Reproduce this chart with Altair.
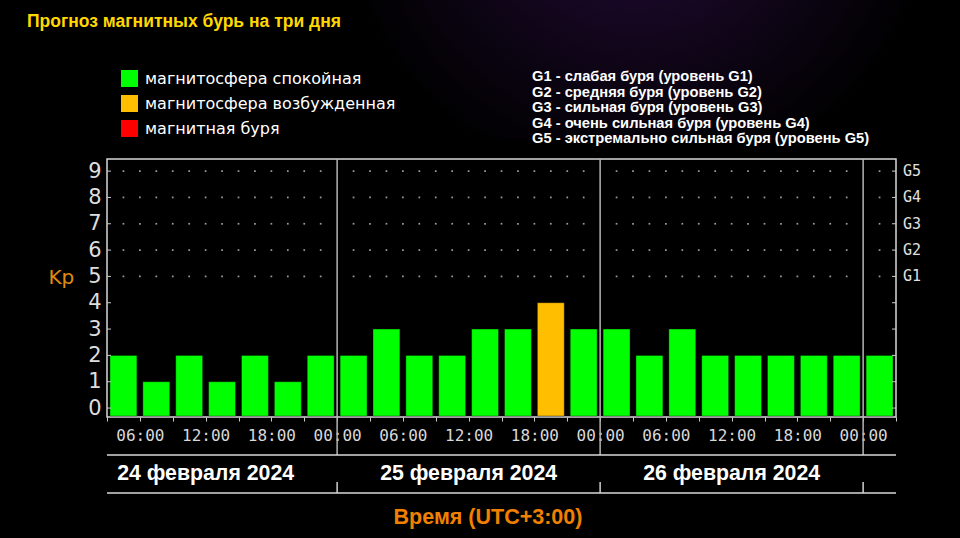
import altair as alt
import pandas as pd

# ---------------- data ----------------
interval_starts = [
    "2024-02-24 03:00", "2024-02-24 06:00", "2024-02-24 09:00", "2024-02-24 12:00",
    "2024-02-24 15:00", "2024-02-24 18:00", "2024-02-24 21:00",
    "2024-02-25 00:00", "2024-02-25 03:00", "2024-02-25 06:00", "2024-02-25 09:00",
    "2024-02-25 12:00", "2024-02-25 15:00", "2024-02-25 18:00", "2024-02-25 21:00",
    "2024-02-26 00:00", "2024-02-26 03:00", "2024-02-26 06:00", "2024-02-26 09:00",
    "2024-02-26 12:00", "2024-02-26 15:00", "2024-02-26 18:00", "2024-02-26 21:00",
    "2024-02-27 00:00",
]
kp_values = [2, 1, 2, 1, 2, 1, 2,
             2, 3, 2, 2, 3, 3, 4, 3,
             3, 2, 3, 2, 2, 2, 2, 2,
             2]

state_names = ["магнитосфера спокойная", "магнитосфера возбужденная", "магнитная буря"]
state_colors = ["#00ff00", "#ffbf00", "#ff0000"]

day_labels = ["24 февраля 2024", "25 февраля 2024", "26 февраля 2024"]
day_noons = ["2024-02-24 12:00", "2024-02-25 12:00", "2024-02-26 12:00"]
day_bounds = ["2024-02-25 00:00", "2024-02-26 00:00", "2024-02-27 00:00"]

g_levels = ["G1", "G2", "G3", "G4", "G5"]
g_kp = [5, 6, 7, 8, 9]
g_desc = [
    "G1 - слабая буря (уровень G1)",
    "G2 - средняя буря (уровень G2)",
    "G3 - сильная буря (уровень G3)",
    "G4 - очень сильная буря (уровень G4)",
    "G5 - экстремально сильная буря (уровень G5)",
]
kp_ticks = list(range(10))

title_text = "Прогноз магнитных бурь на три дня"
x_title_text = "Время (UTC+3:00)"

# ---------------- tables ----------------
origin = pd.Timestamp("2024-02-24 00:00")


def hours(lst):
    return [(pd.Timestamp(s) - origin).total_seconds() / 3600 for s in lst]


start_h = hours(interval_starts)
bars = pd.DataFrame({
    "start": start_h,
    "end": [h + 3 for h in start_h],
    "kp": kp_values,
    "state": [state_names[0] if k < 4 else (state_names[1] if k == 4 else state_names[2])
              for k in kp_values],
})
days = pd.DataFrame({"label": day_labels, "start": hours(day_noons)})
bounds = pd.DataFrame({"start": hours(day_bounds)})
gdf = pd.DataFrame({"g": g_levels, "kp": g_kp})
ticks_df = pd.DataFrame({"kp": kp_ticks})

x_min, x_max = start_h[0], start_h[-1] + 3
grid_x = [x_min + 1.5 * i for i in range(1, int((x_max - x_min) / 1.5))]
grid_x = [g for g in grid_x if g not in hours(day_bounds)]
dots = pd.DataFrame([(gx, gy) for gx in grid_x for gy in g_kp], columns=["start", "kp"])

one = pd.DataFrame({"a": [0]})

W, H = 789, 258
xs = alt.Scale(domain=[x_min, x_max], nice=False, zero=False)
ys = alt.Scale(domain=[-0.34, 9.46], nice=False, zero=False)

xlab_expr = ("datum.value % 6 == 0 ? ((datum.value % 24) < 10 ? '0' : '') + "
             "(datum.value % 24) + ':00' : ''")
xaxis = alt.Axis(
    values=list(range(int(x_min), int(x_max) + 1, 3)), tickSize=4, tickColor="#cccccc",
    tickWidth=1, labelExpr=xlab_expr, labelFont="DejaVu Sans Mono", labelFontSize=16,
    labelColor="#d8d8d8", labelPadding=6, labelFlush=False, labelOverlap=False,
    labelBound=False, domain=False, grid=False, title=None)
yaxis = alt.Axis(
    values=kp_ticks, ticks=False, domain=False, grid=False, labelFontSize=21,
    labelFont="DejaVu Sans", labelColor="#dedede", labelPadding=6,
    title="Kp", titleAngle=0, titleColor="#e08a10", titleFontSize=20,
    titleFontWeight="normal", titleFont="DejaVu Sans", titleX=-59, titleY=124,
    titleAlign="left", titleBaseline="alphabetic")


def X(field):
    return alt.X(field, scale=xs, axis=xaxis)


def Y(field):
    return alt.Y(field, scale=ys, axis=yaxis)


# ---------------- layers ----------------
glow = alt.Chart(one).mark_rect(
    fill=alt.RadialGradient(
        gradient="radial",
        stops=[alt.GradientStop(color="#260a3e", offset=0),
               alt.GradientStop(color="#12061c", offset=0.5),
               alt.GradientStop(color="#000000", offset=1)],
        x1=0.5, y1=0.2, r1=0, x2=0.5, y2=0.2, r2=0.5,
    )
).encode(x=alt.value(230), x2=alt.value(830), y=alt.value(-159), y2=alt.value(-20))

bar_layer = alt.Chart(bars).mark_bar(
    xOffset=3, x2Offset=-3, stroke="#000000", strokeOpacity=0.35, strokeWidth=1
).encode(
    x=X("start:Q"),
    x2="end:Q",
    y=Y("kp:Q"),
    y2=alt.value(H - 1),
    color=alt.Color("state:N", scale=alt.Scale(domain=state_names, range=state_colors),
                    legend=alt.Legend(
                        title=None, orient="none", legendX=14, legendY=-89,
                        symbolType="square", symbolSize=289, symbolStrokeWidth=0,
                        labelFontSize=16, labelFont="DejaVu Sans", labelColor="#ffffff",
                        rowPadding=8, labelOffset=7, padding=0, direction="vertical",
                        labelLimit=400)),
)

dot_layer = alt.Chart(dots).mark_square(size=3, color="#9a9a9a", opacity=1).encode(
    x=X("start:Q"), y=Y("kp:Q"))

day_lines = alt.Chart(bounds).mark_rule(color="#b4b4b4", strokeWidth=1.5).encode(
    x=X("start:Q"), y=alt.value(0), y2=alt.value(296))

day_ticks = alt.Chart(bounds).mark_rule(color="#d0d0d0", strokeWidth=1.5).encode(
    x=X("start:Q"), y=alt.value(323), y2=alt.value(334))

hline1 = alt.Chart(one).mark_rule(color="#d8d8d8", strokeWidth=1.5).encode(
    x=alt.value(0), x2=alt.value(W), y=alt.value(296))
hline2 = alt.Chart(one).mark_rule(color="#d8d8d8", strokeWidth=1.5).encode(
    x=alt.value(0), x2=alt.value(W), y=alt.value(334))

left_ticks = alt.Chart(ticks_df).mark_rule(color="#cccccc", strokeWidth=1).encode(
    y=Y("kp:Q"), x=alt.value(0), x2=alt.value(4))
right_ticks = alt.Chart(ticks_df).mark_rule(color="#cccccc", strokeWidth=1).encode(
    y=Y("kp:Q"), x=alt.value(W - 4), x2=alt.value(W))

g_labels = alt.Chart(gdf).mark_text(
    align="left", baseline="middle", font="DejaVu Sans Mono", fontSize=15, color="#e0e0e0"
).encode(y=Y("kp:Q"), x=alt.value(W + 7), text="g:N")

date_text = alt.Chart(days).mark_text(
    align="center", baseline="alphabetic", font="Liberation Sans", fontWeight="bold",
    fontSize=21.3, color="#ffffff"
).encode(x=X("start:Q"), y=alt.value(321), text="label:N")

title_layer = alt.Chart(one).mark_text(
    text=title_text, align="left", baseline="alphabetic", font="Liberation Sans",
    fontWeight="bold", fontSize=17.5, color="#ffd800"
).encode(x=alt.value(-80), y=alt.value(-132))

xtitle_layer = alt.Chart(one).mark_text(
    text=x_title_text, align="center", baseline="alphabetic", font="Liberation Sans",
    fontWeight="bold", fontSize=21.5, color="#f08000"
).encode(x=alt.value(381), y=alt.value(365))

gdesc_layer = alt.Chart(one).mark_text(
    text=g_desc, align="left", baseline="alphabetic", font="Liberation Sans",
    fontWeight="bold", fontSize=14.7, lineHeight=15.5, color="#ffffff"
).encode(x=alt.value(425), y=alt.value(-78))

chart = alt.layer(
    glow, bar_layer, dot_layer, day_lines, left_ticks, right_ticks, g_labels,
    hline1, hline2, day_ticks, date_text, title_layer, xtitle_layer, gdesc_layer
).properties(
    width=W, height=H,
    padding={"left": 107, "top": 159, "right": 960 - 107 - W, "bottom": 538 - 159 - H},
    autosize=alt.AutoSizeParams(type="none"),
    background="#000000",
).configure_view(stroke="#d8d8d8", strokeWidth=1.5)

chart.save("out.html", embed_options={"renderer": "svg", "actions": False})
